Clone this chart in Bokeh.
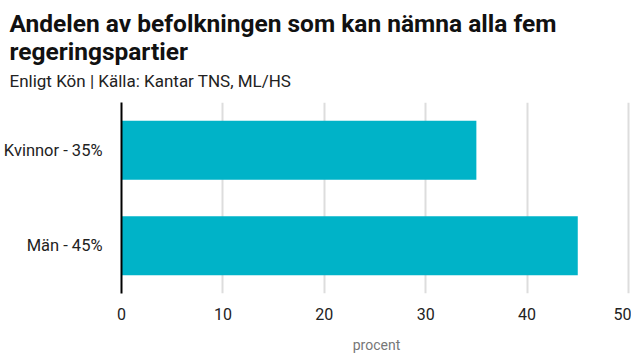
from bokeh.plotting import figure
from bokeh.models import FactorRange, Range1d, Title, FixedTicker
from bokeh.embed import file_html
from bokeh.resources import INLINE

categories = ["Män - 45%", "Kvinnor - 35%"]
values = [45, 35]
x_ticks = [0, 10, 20, 30, 40, 50]

title_line1 = "Andelen av befolkningen som kan nämna alla fem"
title_line2 = "regeringspartier"
subtitle = "Enligt Kön | Källa: Kantar TNS, ML/HS"

TITLE_FONT = "Roboto"
BODY_FONT = "Roboto"

p = figure(frame_width=510, frame_height=191, output_backend="svg", toolbar_location=None,
           y_range=FactorRange(factors=categories, range_padding=0),
           x_range=Range1d(0, 50.3), title=None,
           min_border_left=0, min_border_right=0, min_border_top=0, min_border_bottom=0)

p.hbar(y=categories, right=values, left=0, height=0.62, color="#00b3c8", line_color=None)

t_sub = Title(text=subtitle, text_font=BODY_FONT, text_font_size="17px", text_font_style="normal",
              text_color="#222222", align="left", offset=-112, standoff=24)
t2 = Title(text=title_line2, text_font=TITLE_FONT, text_font_size="24.5px", text_font_style="bold",
           text_color="#111111", align="left", offset=-112, standoff=-18)
t1 = Title(text=title_line1, text_font=TITLE_FONT, text_font_size="24.5px", text_font_style="bold",
           text_color="#111111", align="left", offset=-112, standoff=12)
p.add_layout(t_sub, "above")
p.add_layout(t2, "above")
p.add_layout(t1, "above")

p.xaxis.ticker = FixedTicker(ticks=x_ticks)
p.xaxis.axis_line_color = None
p.xaxis.major_tick_line_color = None
p.xaxis.minor_tick_line_color = None
p.xaxis.major_label_text_font = BODY_FONT
p.xaxis.major_label_text_font_size = "16px"
p.xaxis.major_label_text_color = "#222222"
p.xaxis.major_label_standoff = 8
p.xaxis.axis_label = "procent"
p.xaxis.axis_label_text_font = BODY_FONT
p.xaxis.axis_label_text_font_size = "14px"
p.xaxis.axis_label_text_font_style = "normal"
p.xaxis.axis_label_text_color = "#777777"
p.xaxis.axis_label_standoff = 14

p.yaxis.axis_line_color = "#000000"
p.yaxis.axis_line_width = 2
p.yaxis.major_tick_line_color = None
p.yaxis.minor_tick_line_color = None
p.yaxis.major_label_text_font = BODY_FONT
p.yaxis.major_label_text_font_size = "16.5px"
p.yaxis.major_label_text_color = "#222222"
p.yaxis.major_label_standoff = 13

p.xgrid.grid_line_color = "#dddddd"
p.xgrid.grid_line_width = 2
p.ygrid.grid_line_color = None
p.outline_line_color = None

open("out.html", "w").write(file_html(p, INLINE))
